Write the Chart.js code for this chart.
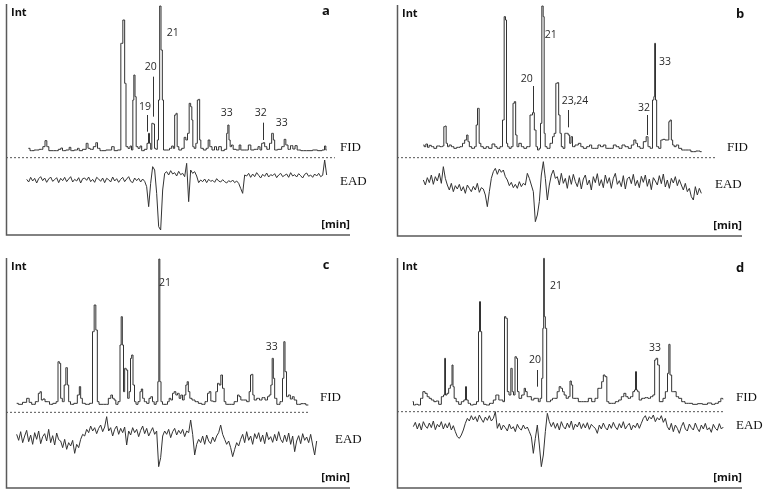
<!DOCTYPE html>
<html><head><meta charset="utf-8">
<script src="https://cdn.jsdelivr.net/npm/chart.js@4.4.0/dist/chart.umd.min.js"></script>
<style>
body{margin:0;background:#fff;width:765px;height:495px;position:relative;overflow:hidden}
canvas{position:absolute}
</style></head><body>
<canvas id="ca" width="382" height="247" style="left:0;top:0"></canvas>
<canvas id="cb" width="383" height="247" style="left:382px;top:0"></canvas>
<canvas id="cc" width="382" height="248" style="left:0;top:247px"></canvas>
<canvas id="cd" width="383" height="248" style="left:382px;top:247px"></canvas>
<script>
// ---------- DATA (retention time units, intensity units) ----------
// FID traces: [time, intensity above baseline]
const fidA = [[67,10],[77,3],[92,5],[107,7],[114,15],[120,33],[125,15],[132,3],[152,3],[162,7],[167,11],[172,3],[187,5],[192,13],[197,3],[212,5],[217,10],[222,3],[237,7],[244,25],[248,10],[257,7],[267,15],[272,27],[277,10],[287,3],[312,5],[322,15],[327,3],[342,5],[347,325],[354,395],[358,205],[362,15],[370,10],[374,17],[379,5],[382,155],[385,230],[389,165],[392,15],[400,10],[404,17],[410,3],[420,7],[426,25],[429,55],[432,25],[436,7],[439,85],[444,83],[447,10],[452,7],[456,35],[459,155],[463,437],[467,305],[471,155],[474,5],[487,5],[494,10],[500,17],[504,10],[508,110],[512,115],[515,15],[522,5],[532,10],[537,43],[542,35],[547,55],[552,145],[556,135],[559,95],[562,15],[567,10],[572,25],[576,155],[580,157],[582,35],[587,10],[597,5],[604,10],[609,35],[614,15],[622,5],[629,15],[634,5],[642,15],[650,3],[660,7],[664,55],[667,80],[671,35],[674,15],[679,20],[684,7],[697,5],[702,20],[707,5],[722,5],[732,20],[737,5],[752,7],[760,15],[764,5],[770,25],[774,27],[778,15],[787,7],[794,25],[800,55],[804,35],[808,5],[822,7],[832,15],[837,37],[842,20],[850,7],[857,18],[864,8],[870,18],[877,5],[892,3],[912,3],[927,5],[942,3],[954,5],[957,17],[962,5]];
const fidB = [[79,15],[84,10],[89,18],[94,8],[99,14],[107,10],[114,5],[124,12],[134,10],[139,12],[142,70],[146,72],[149,20],[154,10],[159,15],[167,10],[174,5],[184,8],[194,10],[199,20],[207,30],[211,45],[215,25],[219,10],[229,5],[236,10],[239,75],[244,125],[249,20],[254,10],[264,5],[271,10],[279,5],[291,18],[296,10],[304,5],[314,10],[319,90],[324,400],[327,390],[330,20],[334,10],[339,5],[346,10],[350,140],[354,145],[358,45],[362,10],[369,20],[377,10],[384,5],[394,10],[404,105],[409,112],[415,60],[419,10],[424,0],[429,5],[432,80],[437,432],[440,400],[443,50],[446,10],[454,5],[464,20],[469,40],[474,50],[479,200],[483,202],[487,105],[491,50],[495,10],[501,5],[506,50],[511,50],[516,45],[520,20],[524,40],[529,10],[539,15],[549,20],[554,10],[564,5],[574,10],[581,15],[587,5],[599,5],[607,15],[614,10],[624,15],[629,5],[644,5],[654,15],[661,10],[671,5],[679,15],[689,10],[699,5],[707,15],[714,30],[719,20],[724,10],[734,5],[744,25],[751,40],[755,10],[764,5],[769,150],[772,160],[774,320],[777,150],[781,10],[789,5],[794,30],[801,32],[807,30],[814,30],[817,85],[821,90],[825,30],[829,15],[834,10],[841,15],[849,5],[859,0],[874,0],[889,-5],[904,-3],[914,-5]];
const fidC = [[32,3],[42,0],[57,6],[67,18],[72,6],[82,0],[94,8],[100,33],[104,38],[108,13],[114,16],[120,8],[127,8],[134,0],[147,3],[154,8],[158,128],[162,123],[166,18],[172,8],[177,58],[182,110],[186,58],[190,8],[197,0],[210,3],[218,28],[222,53],[226,18],[232,3],[244,0],[257,3],[262,218],[267,298],[272,223],[276,8],[282,0],[302,0],[312,18],[317,28],[322,18],[327,13],[332,0],[340,8],[344,178],[347,263],[351,178],[354,38],[358,108],[363,103],[367,18],[372,38],[375,138],[379,148],[383,58],[388,8],[392,0],[400,8],[404,38],[408,46],[412,18],[418,8],[426,3],[432,18],[437,23],[442,8],[447,0],[454,8],[457,68],[460,436],[463,68],[467,8],[472,0],[482,0],[487,8],[492,18],[497,13],[502,33],[507,38],[512,28],[517,33],[522,18],[527,28],[532,13],[537,28],[542,58],[545,68],[549,38],[554,18],[562,13],[572,8],[582,3],[592,0],[602,8],[607,33],[612,38],[617,10],[627,8],[632,38],[637,63],[642,58],[647,88],[652,48],[657,8],[662,0],[677,0],[692,8],[697,28],[702,23],[707,13],[717,13],[727,8],[732,38],[735,88],[739,90],[742,28],[747,13],[757,18],[764,13],[772,20],[782,13],[787,23],[792,28],[797,58],[800,138],[804,78],[808,18],[817,0],[827,8],[832,78],[835,188],[839,98],[844,23],[850,28],[856,16],[862,23],[867,13],[877,0],[892,2],[907,-2]];
const fidD = [[47,8],[52,-2],[59,0],[67,-2],[74,18],[81,38],[87,33],[94,23],[99,18],[107,13],[114,8],[121,10],[129,0],[137,23],[142,28],[144,138],[147,28],[153,33],[157,48],[163,58],[167,118],[169,53],[174,18],[181,8],[189,0],[197,8],[204,13],[207,53],[210,13],[217,3],[224,-2],[234,0],[243,8],[246,218],[249,308],[252,218],[256,8],[264,0],[271,-2],[284,3],[294,13],[299,28],[304,28],[307,13],[314,13],[321,8],[324,263],[329,258],[333,38],[339,28],[344,108],[347,38],[352,28],[356,143],[360,138],[363,38],[369,18],[379,28],[384,48],[387,38],[394,23],[399,23],[407,13],[414,18],[421,18],[427,8],[432,18],[436,78],[439,228],[441,438],[443,263],[447,228],[451,8],[457,8],[464,13],[469,18],[477,18],[484,38],[489,53],[494,48],[499,38],[504,28],[511,18],[517,23],[521,70],[525,58],[529,18],[539,18],[549,8],[559,8],[569,8],[579,18],[589,8],[599,18],[606,48],[611,48],[617,68],[621,88],[627,83],[632,8],[639,3],[649,3],[661,8],[669,13],[677,23],[684,33],[689,23],[697,18],[704,23],[711,38],[714,43],[717,98],[720,43],[724,38],[729,13],[739,18],[749,20],[757,18],[764,23],[771,28],[775,133],[779,138],[785,118],[789,8],[795,8],[801,18],[809,38],[814,93],[817,180],[821,88],[827,38],[834,38],[841,23],[849,18],[859,8],[869,3],[879,3],[894,0],[909,2],[924,0],[939,4],[949,0],[959,3],[969,8],[974,18],[979,16]];

// EAD traces: response sampled every eadStep time units from the start time
const eadStep = 6;
const eadStart = {a:62, b:79, c:32, d:49};
const eadA = [2,-6,8,-3,5,-9,4,10,-2,6,-7,3,9,-4,1,7,-8,5,-2,8,-5,3,10,-6,2,-3,7,-9,4,6,-1,9,-5,2,-7,8,3,-4,6,-8,5,1,-6,9,-3,4,-7,2,8,-5,3,10,-4,-8,6,-2,5,-6,3,-4,-20,-80,-10,40,30,-40,-140,-150,-30,20,25,15,28,18,22,12,26,16,20,10,50,-65,30,20,25,12,-8,0,-5,3,-8,2,-4,-1,-7,4,-3,-6,1,-5,-9,-2,-6,0,-8,-3,-10,-25,-40,15,12,20,8,18,10,22,14,6,17,11,21,9,16,13,19,7,15,20,10,14,18,8,22,12,16,9,19,13,6,17,21,11,15,8,18,12,20,10,14,60,15];
const eadB = [5,-10,12,-3,20,-8,15,2,25,-5,45,10,-10,-25,-5,-30,-12,-22,-8,-28,-15,-35,-10,-20,-30,-14,-25,-5,-32,-18,-22,-40,-75,-30,10,30,40,22,38,28,35,15,5,-12,-2,-18,-8,-20,0,-15,-5,-10,25,10,-10,-30,-120,-100,-60,20,60,10,-55,-10,20,35,10,15,-10,25,-5,10,-20,18,-8,22,0,-15,12,-22,8,20,-10,5,-25,15,-3,24,-12,6,-18,20,-5,12,-20,10,25,-8,3,-15,18,-22,9,14,-6,22,-12,4,-18,16,-2,20,-14,8,-24,12,2,-10,18,-6,23,-16,5,-20,10,-4,15,-12,6,-10,-25,-5,-30,-20,-45,-55,-15,-40,-20,-35];
const eadC = [10,-8,18,-15,5,22,-12,8,-20,15,-5,20,-18,3,12,-10,25,-15,6,-22,14,-6,-10,-30,-5,-35,-15,-25,-8,-47,-20,-30,-5,10,5,25,15,35,20,30,12,28,38,18,32,63,20,30,5,25,35,10,28,15,32,-22,20,8,30,15,25,3,22,35,12,28,5,18,30,10,20,-87,-60,5,20,10,25,0,18,28,8,22,12,25,3,20,15,53,10,-52,-20,-5,-15,5,-20,8,-10,-18,2,-12,5,15,38,10,-5,-20,-10,-30,-57,-35,-15,-25,-5,10,-15,18,-8,5,-20,12,-3,15,-12,8,-18,16,-6,3,-14,10,-10,18,-5,-15,8,-12,14,-20,5,-42,-10,6,-18,12,-8,2,-15,10,-22,-52,-10];
const eadD = [-5,8,-12,5,-15,10,-3,-10,6,-8,12,-14,2,-6,10,-12,4,-9,7,-15,-2,-20,-35,-40,-30,-15,5,20,12,28,15,25,10,30,18,8,24,14,28,12,20,40,-10,5,-15,0,-8,-18,3,-12,-5,-20,2,-10,-15,0,-12,-6,-20,-35,-85,-40,0,-60,-125,-90,-20,35,10,-5,8,-10,5,-15,10,-5,-12,6,-8,12,-14,3,-6,9,-11,4,-9,7,-13,2,-5,-10,-25,0,-12,6,-8,-15,3,-10,8,-6,-14,4,-9,10,-12,-2,5,-15,0,-8,6,-10,5,20,28,12,25,18,30,10,22,15,28,8,20,-5,-15,5,-20,0,-10,-25,-5,8,-12,-18,3,-8,-15,6,-10,-20,0,-12,5,-15,-8,-22,2,-10,-16,4,-12,-6];

// Peak marker lines: [time, from intensity, to intensity]
const markA = [[424,60,110],[442,105,225],[772,35,87]];
const markB = [[409,112,192],[514,68,120],[749,45,105]];
const markC = [];
const markD = [[419,53,103]];
// Peak labels: [text, time, intensity]
const peakA = [['19',417,135],['20',434,255],['21',500,355],['33',662,117],['32',764,117],['33',827,87]];
const peakB = [['20',389,212],['21',461,345],['23,24',534,147],['32',741,125],['33',804,265]];
const peakC = [['21',477,365],['33',797,173]];
const peakD = [['20',414,133],['21',477,356],['33',774,168]];

// ---------- LAYOUT ----------
const panels = [
 {id:'ca', letter:'a', fid:fidA, ead:eadA, t0:eadStart.a, marks:markA, peaks:peakA,
  pad:{left:6,top:4,right:32,bottom:12}, xMax:1032, yMax:693, fidOff:250, eadOff:165, dashY:232, dashEnd:987,
  fidLbl:[340,148], eadLbl:[340,182], letterPos:[326,11]},
 {id:'cb', letter:'b', fid:fidB, ead:eadB, t0:eadStart.b, marks:markB, peaks:peakB,
  pad:{left:15,top:5,right:23,bottom:11}, xMax:1035, yMax:693, fidOff:258, eadOff:163, dashY:235, dashEnd:960,
  fidLbl:[345,148], eadLbl:[333,185], letterPos:[358,14]},
 {id:'cc', letter:'c', fid:fidC, ead:eadC, t0:eadStart.c, marks:markC, peaks:peakC,
  pad:{left:6,top:11,right:32,bottom:7}, xMax:1032, yMax:690, fidOff:251, eadOff:151, dashY:227, dashEnd:906,
  fidLbl:[320,151], eadLbl:[335,193], letterPos:[326,18]},
 {id:'cd', letter:'d', fid:fidD, ead:eadD, t0:eadStart.d, marks:markD, peaks:peakD,
  pad:{left:15,top:11,right:23,bottom:7}, xMax:1035, yMax:690, fidOff:251, eadOff:189, dashY:229, dashEnd:978,
  fidLbl:[354,151], eadLbl:[354,179], letterPos:[358,21]}
];

function makePlugin(p){
  return {
    id:'deco_'+p.letter,
    afterDatasetsDraw(chart){
      const {ctx, chartArea:a, scales:{x,y}} = chart;
      ctx.save();
      ctx.strokeStyle='#5a5a5a'; ctx.lineWidth=1.5;
      ctx.beginPath();
      ctx.moveTo(a.left+0.5, a.top); ctx.lineTo(a.left+0.5, a.bottom);
      ctx.lineTo(a.right, a.bottom);
      ctx.stroke();
      ctx.strokeStyle='#333'; ctx.lineWidth=1;
      p.marks.forEach(m=>{
        const px = Math.round(x.getPixelForValue(m[0]))+0.5;
        ctx.beginPath();
        ctx.moveTo(px, y.getPixelForValue(p.fidOff+m[1]));
        ctx.lineTo(px, y.getPixelForValue(p.fidOff+m[2]));
        ctx.stroke();
      });
      ctx.fillStyle='#2a2a2a';
      ctx.font='10.5px "Open Sans", sans-serif';
      ctx.textAlign='center'; ctx.textBaseline='middle';
      p.peaks.forEach(l=>{
        ctx.fillText(l[0], x.getPixelForValue(l[1]), y.getPixelForValue(p.fidOff+l[2]));
      });
      ctx.fillStyle='#111';
      ctx.font='bold 11px "Open Sans", sans-serif';
      ctx.textAlign='left';
      ctx.fillText('Int', a.left+5, a.top+9);
      ctx.textAlign='right';
      ctx.fillText('[min]', a.right, a.bottom-10);
      ctx.font='bold 13px "Open Sans", sans-serif';
      ctx.textAlign='center';
      ctx.fillText(p.letter, p.letterPos[0], p.letterPos[1]);
      ctx.font='13px "Liberation Serif", "Times New Roman", serif';
      ctx.textAlign='left';
      ctx.fillText('FID', p.fidLbl[0], p.fidLbl[1]);
      ctx.fillText('EAD', p.eadLbl[0], p.eadLbl[1]);
      ctx.restore();
    }
  };
}

panels.forEach(p=>{
  const fidData = p.fid.map(([t,v])=>({x:t, y:p.fidOff+v}));
  const eadData = p.ead.map((v,i)=>({x:p.t0+i*eadStep, y:p.eadOff+v}));
  const dashData = [{x:0,y:p.dashY},{x:p.dashEnd,y:p.dashY}];
  new Chart(document.getElementById(p.id), {
    type:'line',
    data:{datasets:[
      {data:fidData, borderColor:'#333', borderWidth:1, pointRadius:0, stepped:'middle', clip:false},
      {data:eadData, borderColor:'#333', borderWidth:1, pointRadius:0, tension:0, clip:false},
      {data:dashData, borderColor:'#555', borderWidth:1, borderDash:[2,2], pointRadius:0, clip:false}
    ]},
    options:{
      responsive:false, animation:false, devicePixelRatio:1,
      layout:{padding:p.pad},
      plugins:{legend:{display:false}, tooltip:{enabled:false}},
      scales:{
        x:{type:'linear', display:false, min:0, max:p.xMax},
        y:{type:'linear', display:false, min:0, max:p.yMax}
      }
    },
    plugins:[makePlugin(p)]
  });
});
</script>
</body></html>
